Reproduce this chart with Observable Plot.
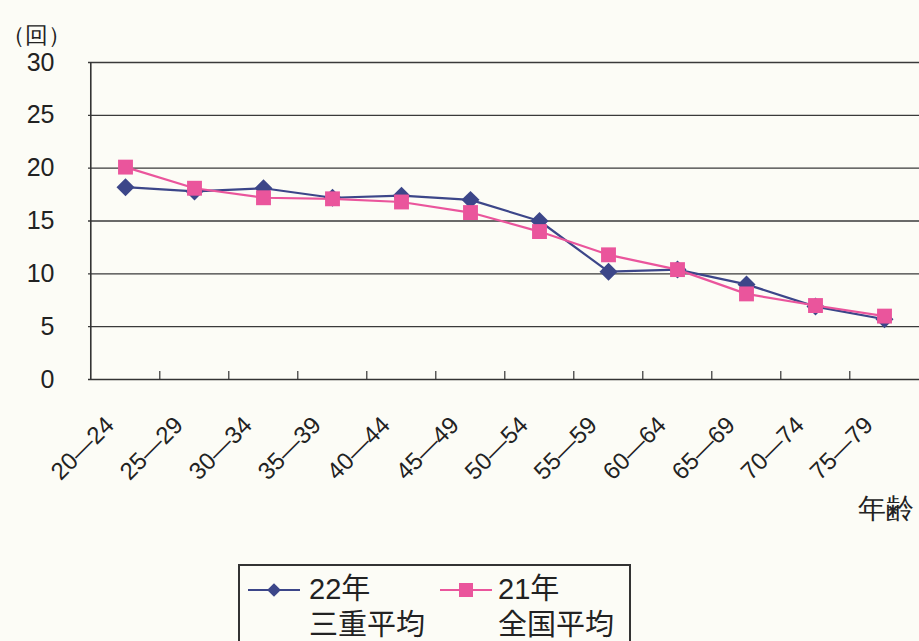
<!DOCTYPE html>
<html>
<head>
<meta charset="utf-8">
<script src="https://cdn.jsdelivr.net/npm/d3@7"></script>
<script src="https://cdn.jsdelivr.net/npm/@observablehq/plot@0.6"></script>
<style>
  html, body { margin: 0; padding: 0; background: #fcfcf6; }
  body { width: 919px; height: 641px; overflow: hidden; position: relative;
         font-family: "Liberation Sans", Arial, "Noto Sans CJK JP", sans-serif; }
  #legend { position: absolute; left: 238px; top: 564px; width: 393px; height: 90px;
            border: 2px solid #333; box-sizing: border-box; background: #fcfcf6; }
  .item { position: absolute; top: 0; font-size: 29px; line-height: 36px; color: #222; }
  .item svg { position: absolute; left: 0; top: 12px; }
  .item .txt { position: absolute; white-space: nowrap; }
</style>
</head>
<body>
<div id="chart"></div>
<div id="legend"></div>
<script>
const categories = ["20—24","25—29","30—34","35—39","40—44","45—49","50—54","55—59","60—64","65—69","70—74","75—79"];
const mie22 = [18.2, 17.8, 18.1, 17.2, 17.4, 17.0, 15.0, 10.2, 10.4, 9.0, 6.9, 5.7];
const zenkoku21 = [20.1, 18.1, 17.2, 17.1, 16.8, 15.8, 14.0, 11.8, 10.4, 8.1, 7.0, 6.0];
const yTicks = [0, 5, 10, 15, 20, 25, 30];
const seriesNames = [["22年", "三重平均"], ["21年", "全国平均"]];
const yUnit = "（回）";
const xTitle = "年齢";

const navy = "#3c4689";
const pink = "#ea559c";

const W = 919, H = 550;
const x0 = 88, x1 = 921;
const step = (x1 - x0) / categories.length;

const rows = (vals) => categories.map((c, i) => ({c, v: vals[i]}));
const A = rows(mie22), B = rows(zenkoku21);

const chart = Plot.plot({
  width: W, height: H,
  marginLeft: x0, marginRight: 0, marginTop: 62, marginBottom: H - 379,
  style: {fontSize: "25px", fontFamily: "'Liberation Sans', Arial, sans-serif", background: "transparent", color: "#222"},
  x: {type: "point", domain: categories, range: [x0, x1], padding: 0.5, axis: null},
  y: {domain: [0, 30], ticks: yTicks, tickSize: 0, tickPadding: 34, label: null},
  marks: [
    Plot.ruleY(yTicks.filter(d => d > 0), {y: d => d, stroke: "#3a3a3a", strokeWidth: 1.3}),
    Plot.ruleY([0], {stroke: "#333", strokeWidth: 1.6}),
    Plot.ruleX([categories[0]], {x: d => d, dx: -step / 2, y1: 0, y2: 30, stroke: "#333", strokeWidth: 1.6}),
    Plot.ruleX(categories.slice(1), {x: d => d, dx: -step / 2, y1: 0, y2: 0.75, stroke: "#333", strokeWidth: 1.2}),
    Plot.line(A, {x: "c", y: "v", stroke: navy, strokeWidth: 2.2}),
    Plot.dot(A, {x: "c", y: "v", symbol: "diamond2", r: 8.1, fill: navy, stroke: "none"}),
    Plot.line(B, {x: "c", y: "v", stroke: pink, strokeWidth: 2.2}),
    Plot.dot(B, {x: "c", y: "v", symbol: "square", r: 8.4, fill: pink, stroke: "none"}),
    Plot.text(categories, {x: d => d, y: () => 0, dy: 47, dx: -10, rotate: -45, textAnchor: "end", lineAnchor: "bottom", fontSize: 24, fill: "#222"}),
    Plot.text([xTitle], {frameAnchor: "bottom-right", dx: -6, dy: 138, textAnchor: "end", fontSize: 28, fill: "#222"}),
    Plot.text([yUnit], {frameAnchor: "top-left", dx: -87, dy: -36, textAnchor: "start", fontSize: 23, fill: "#222"})
  ]
});
document.getElementById("chart").appendChild(chart);

// legend
const legend = document.getElementById("legend");
const items = [
  {left: 8, color: navy, symbol: "diamond", lines: seriesNames[0], tx: 61},
  {left: 200, color: pink, symbol: "square", lines: seriesNames[1], tx: 58}
];
items.forEach(it => {
  const div = document.createElement("div");
  div.className = "item";
  div.style.left = it.left + "px";
  const s = d3.create("svg").attr("width", 60).attr("height", 24);
  s.append("line").attr("x1", 0).attr("x2", 52).attr("y1", 12).attr("y2", 12).attr("stroke", it.color).attr("stroke-width", 2.2);
  if (it.symbol === "diamond") {
    s.append("path").attr("d", d3.symbol(d3.symbolDiamond2, 120)()).attr("transform", "translate(26,12)").attr("fill", it.color);
  } else {
    s.append("rect").attr("x", 19).attr("y", 5).attr("width", 14).attr("height", 14).attr("fill", it.color);
  }
  div.appendChild(s.node());
  const t = document.createElement("div");
  t.className = "txt";
  t.style.left = it.tx + "px";
  t.style.top = "5px";
  t.innerHTML = it.lines.join("<br>");
  div.appendChild(t);
  legend.appendChild(div);
});
</script>
</body>
</html>
